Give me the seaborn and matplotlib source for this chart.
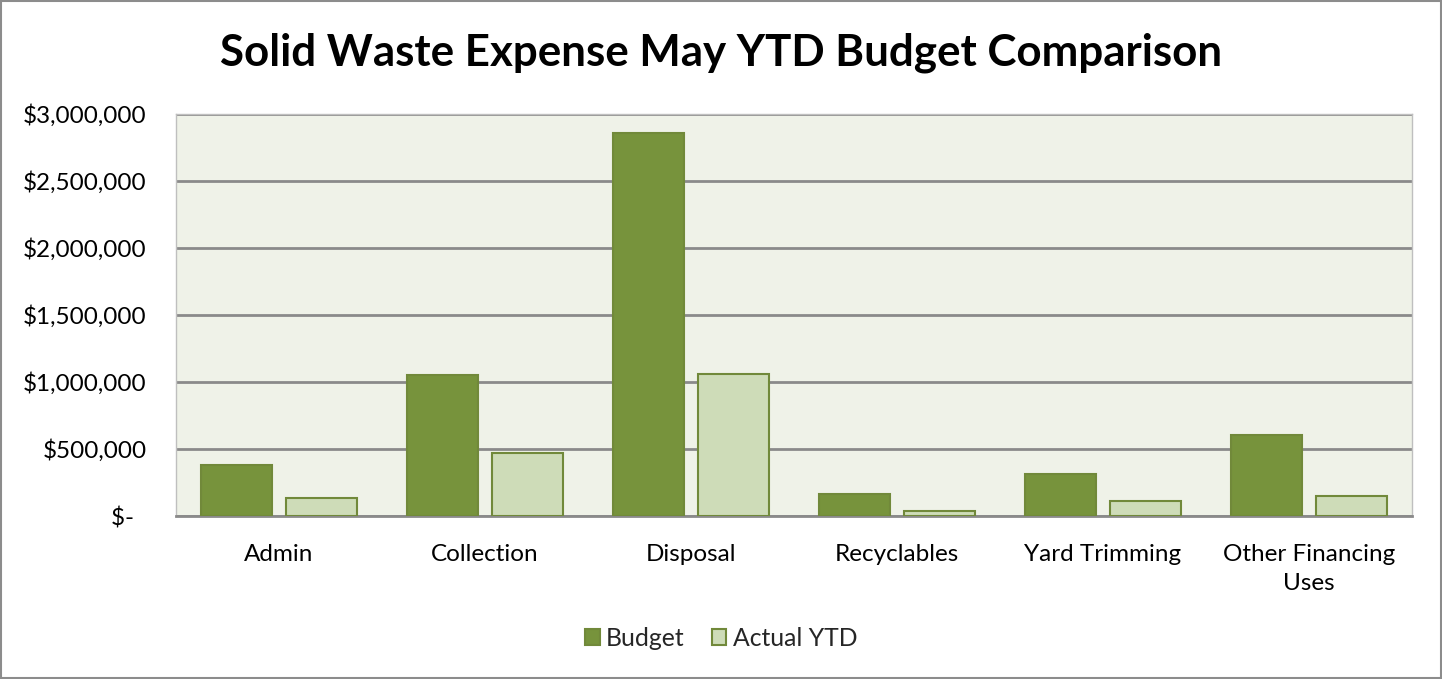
import matplotlib
matplotlib.use("Agg")
import matplotlib.pyplot as plt
import matplotlib.ticker as mticker
from matplotlib.patches import Rectangle
import pandas as pd
import seaborn as sns

categories = ["Admin", "Collection", "Disposal", "Recyclables", "Yard Trimming",
              "Other Financing\nUses"]
budget = [382000, 1051000, 2858000, 165000, 312000, 604000]
actual_ytd = [138000, 467000, 1060000, 35000, 110000, 150000]
series_names = ["Budget", "Actual YTD"]
y_ticks = [0, 500000, 1000000, 1500000, 2000000, 2500000, 3000000]

df = pd.DataFrame({
    "category": categories * 2,
    "series": [series_names[0]] * len(categories) + [series_names[1]] * len(categories),
    "value": budget + actual_ytd,
})

sns.set_theme(style="white")
plt.rcParams["font.family"] = ["Lato", "DejaVu Sans"]

fill_colors = {"Budget": "#77933C", "Actual YTD": "#CEDCB8"}
edge_color = "#71893A"

fig = plt.figure(figsize=(14.42, 6.79), dpi=100)
fig.patches.append(Rectangle((0.001, 0.001), 0.998, 0.997, transform=fig.transFigure,
                             fill=False, edgecolor="#8C8C8C", linewidth=1.5))
ax = fig.add_axes([176 / 1442, 163 / 679, 1236 / 1442, 402 / 679])
ax.set_facecolor("#EFF2E8")

sns.barplot(data=df, x="category", y="value", hue="series", order=categories,
            hue_order=series_names, palette=fill_colors, saturation=1,
            width=0.83, gap=0.17, edgecolor=edge_color, linewidth=1.5, ax=ax,
            legend=False, zorder=3)

ax.set_ylim(0, 3000000)
ax.set_xlim(-0.5, len(categories) - 0.5)
ax.set_yticks(y_ticks)


def money(v, _pos):
    return "$-  " if v == 0 else f"${v:,.0f}"


ax.yaxis.set_major_formatter(mticker.FuncFormatter(money))
ax.grid(axis="y", color="#8A8A8A", linewidth=2, zorder=0)
ax.set_axisbelow(True)
ax.tick_params(axis="y", length=0, pad=21, labelsize=17.5, labelcolor="#000000")
ax.tick_params(axis="x", length=0, pad=20, labelsize=17.5, labelcolor="#000000")
for label in ax.get_xticklabels():
    label.set_linespacing(1.5)
ax.set_xlabel("")
ax.set_ylabel("")
for side, spine in ax.spines.items():
    spine.set_visible(True)
    spine.set_color("#BFBFBF")
    spine.set_linewidth(1)
ax.spines["bottom"].set_color("#8A8A8A")
ax.spines["bottom"].set_linewidth(2)

fig.text(0.5, 0.922, "Solid Waste Expense May YTD Budget Comparison",
         ha="center", va="center", fontsize=31.6, fontweight="bold", color="#000000")

handles = [Rectangle((0, 0), 1, 1, facecolor=fill_colors[s], edgecolor=edge_color,
                     linewidth=1.5) for s in series_names]
fig.legend(handles, series_names, loc="center", bbox_to_anchor=(0.5, 0.06),
           ncol=2, frameon=False, fontsize=17.8, handlelength=0.6, handleheight=0.6,
           handletextpad=0.25, columnspacing=1.1)

fig.savefig("out.png", dpi=100)
